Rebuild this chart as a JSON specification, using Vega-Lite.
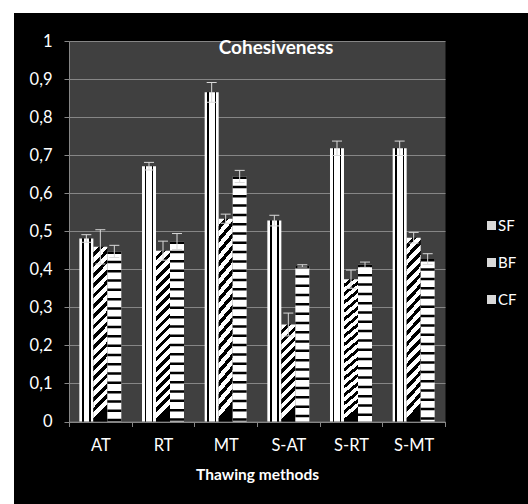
{
  "$schema": "https://vega.github.io/schema/vega-lite/v6.json",
  "width": 514,
  "height": 491,
  "autosize": {"type": "none"},
  "padding": {"left": 14, "top": 13, "right": 0, "bottom": 0},
  "background": "white",
  "config": {"view": {"fill": "black", "stroke": null}, "font": "Lato"},
  "title": {"text": "Cohesiveness", "color": "white", "font": "Lato", "fontSize": 19, "fontWeight": "bold", "anchor": "middle", "frame": "group", "offset": -45, "dx": 5},
  "data": {"values": [
    {"method": "AT", "series": "SF", "value": 0.481, "lo": 0.471, "hi": 0.491},
    {"method": "AT", "series": "BF", "value": 0.459, "lo": 0.414, "hi": 0.504},
    {"method": "AT", "series": "CF", "value": 0.447, "lo": 0.431, "hi": 0.463},
    {"method": "RT", "series": "SF", "value": 0.671, "lo": 0.661, "hi": 0.681},
    {"method": "RT", "series": "BF", "value": 0.449, "lo": 0.424, "hi": 0.474},
    {"method": "RT", "series": "CF", "value": 0.473, "lo": 0.452, "hi": 0.494},
    {"method": "MT", "series": "SF", "value": 0.865, "lo": 0.839, "hi": 0.891},
    {"method": "MT", "series": "BF", "value": 0.533, "lo": 0.521, "hi": 0.545},
    {"method": "MT", "series": "CF", "value": 0.644, "lo": 0.628, "hi": 0.66},
    {"method": "S-AT", "series": "SF", "value": 0.528, "lo": 0.514, "hi": 0.542},
    {"method": "S-AT", "series": "BF", "value": 0.255, "lo": 0.225, "hi": 0.285},
    {"method": "S-AT", "series": "CF", "value": 0.409, "lo": 0.406, "hi": 0.412},
    {"method": "S-RT", "series": "SF", "value": 0.718, "lo": 0.699, "hi": 0.737},
    {"method": "S-RT", "series": "BF", "value": 0.374, "lo": 0.35, "hi": 0.398},
    {"method": "S-RT", "series": "CF", "value": 0.412, "lo": 0.405, "hi": 0.419},
    {"method": "S-MT", "series": "SF", "value": 0.718, "lo": 0.699, "hi": 0.737},
    {"method": "S-MT", "series": "BF", "value": 0.483, "lo": 0.469, "hi": 0.497},
    {"method": "S-MT", "series": "CF", "value": 0.427, "lo": 0.413, "hi": 0.441}
  ]},
  "encoding": {
    "x": {
      "field": "method", "type": "nominal",
      "sort": ["AT", "RT", "MT", "S-AT", "S-RT", "S-MT"],
      "scale": {"range": [55, 431], "paddingInner": 0, "paddingOuter": 0},
      "axis": {"orient": "bottom", "offset": -82.5, "tickBand": "extent", "tickSize": 5, "tickColor": "#868686", "domainColor": "#868686", "labelColor": "white", "labelFont": "Lato", "labelFontSize": 16.5, "labelPadding": 11, "labelAngle": 0, "title": "Thawing methods", "titleColor": "white", "titleFont": "Lato", "titleFontSize": 15.5, "titleFontWeight": "bold", "titlePadding": 13, "grid": false}
    },
    "xOffset": {"field": "series", "type": "nominal", "scale": {"domain": ["SF", "BF", "CF"], "paddingInner": 0, "paddingOuter": 0.738}}
  },
  "resolve": {"axis": {"y": "independent"}},
  "layer": [
    {
      "transform": [{"filter": "datum.series === 'SF'"}],
      "mark": {"type": "bar", "stroke": null, "fill": {"gradient": "linear", "x1": 0, "y1": 0, "x2": 1, "y2": 0, "stops": [
        {"offset": 0, "color": "#ffffff"}, {"offset": 0.18, "color": "#ffffff"}, {"offset": 0.18, "color": "#000000"}, {"offset": 0.3, "color": "#000000"}, {"offset": 0.3, "color": "#ffffff"}, {"offset": 0.72, "color": "#ffffff"}, {"offset": 0.72, "color": "#000000"}, {"offset": 0.82, "color": "#000000"}, {"offset": 0.82, "color": "#ffffff"}, {"offset": 1, "color": "#ffffff"}]}},
      "encoding": {
        "y": {"field": "value", "type": "quantitative", "scale": {"domain": [0, 1], "range": [408.5, 28], "nice": false, "zero": true},
          "axis": {"orient": "left", "offset": -55, "values": [0.5], "grid": true, "gridColor": "#404040", "gridWidth": 380.5, "gridOpacity": 1, "labels": false, "ticks": false, "domain": false, "title": null}}
      }
    },
    {
      "transform": [{"filter": "datum.series === 'BF' && datum.method !== 'S-AT'"}],
      "mark": {"type": "bar", "stroke": null, "fill": {"gradient": "linear", "x1": 0, "y1": 0, "x2": 0.082, "y2": 1, "stops": [
        {"offset": 0, "color": "#ffffff"}, {"offset": 0.0324, "color": "#ffffff"}, {"offset": 0.0324, "color": "#000000"}, {"offset": 0.0588, "color": "#000000"},
        {"offset": 0.0588, "color": "#ffffff"}, {"offset": 0.0912, "color": "#ffffff"}, {"offset": 0.0912, "color": "#000000"}, {"offset": 0.1176, "color": "#000000"},
        {"offset": 0.1176, "color": "#ffffff"}, {"offset": 0.15, "color": "#ffffff"}, {"offset": 0.15, "color": "#000000"}, {"offset": 0.1765, "color": "#000000"},
        {"offset": 0.1765, "color": "#ffffff"}, {"offset": 0.2089, "color": "#ffffff"}, {"offset": 0.2089, "color": "#000000"}, {"offset": 0.2353, "color": "#000000"},
        {"offset": 0.2353, "color": "#ffffff"}, {"offset": 0.2677, "color": "#ffffff"}, {"offset": 0.2677, "color": "#000000"}, {"offset": 0.2941, "color": "#000000"},
        {"offset": 0.2941, "color": "#ffffff"}, {"offset": 0.3265, "color": "#ffffff"}, {"offset": 0.3265, "color": "#000000"}, {"offset": 0.3529, "color": "#000000"},
        {"offset": 0.3529, "color": "#ffffff"}, {"offset": 0.3853, "color": "#ffffff"}, {"offset": 0.3853, "color": "#000000"}, {"offset": 0.4118, "color": "#000000"},
        {"offset": 0.4118, "color": "#ffffff"}, {"offset": 0.4442, "color": "#ffffff"}, {"offset": 0.4442, "color": "#000000"}, {"offset": 0.4706, "color": "#000000"},
        {"offset": 0.4706, "color": "#ffffff"}, {"offset": 0.503, "color": "#ffffff"}, {"offset": 0.503, "color": "#000000"}, {"offset": 0.5294, "color": "#000000"},
        {"offset": 0.5294, "color": "#ffffff"}, {"offset": 0.5618, "color": "#ffffff"}, {"offset": 0.5618, "color": "#000000"}, {"offset": 0.5882, "color": "#000000"},
        {"offset": 0.5882, "color": "#ffffff"}, {"offset": 0.6206, "color": "#ffffff"}, {"offset": 0.6206, "color": "#000000"}, {"offset": 0.6471, "color": "#000000"},
        {"offset": 0.6471, "color": "#ffffff"}, {"offset": 0.6795, "color": "#ffffff"}, {"offset": 0.6795, "color": "#000000"}, {"offset": 0.7059, "color": "#000000"},
        {"offset": 0.7059, "color": "#ffffff"}, {"offset": 0.7383, "color": "#ffffff"}, {"offset": 0.7383, "color": "#000000"}, {"offset": 0.7647, "color": "#000000"},
        {"offset": 0.7647, "color": "#ffffff"}, {"offset": 0.7971, "color": "#ffffff"}, {"offset": 0.7971, "color": "#000000"}, {"offset": 0.8235, "color": "#000000"},
        {"offset": 0.8235, "color": "#ffffff"}, {"offset": 0.8559, "color": "#ffffff"}, {"offset": 0.8559, "color": "#000000"}, {"offset": 0.8824, "color": "#000000"},
        {"offset": 0.8824, "color": "#ffffff"}, {"offset": 0.9148, "color": "#ffffff"}, {"offset": 0.9148, "color": "#000000"}, {"offset": 0.9412, "color": "#000000"},
        {"offset": 0.9412, "color": "#ffffff"}, {"offset": 0.9736, "color": "#ffffff"}, {"offset": 0.9736, "color": "#000000"}, {"offset": 1, "color": "#000000"}]}},
      "encoding": {
        "y": {"field": "value", "type": "quantitative", "scale": {"domain": [0, 1], "range": [408.5, 28], "nice": false, "zero": true},
          "axis": {"orient": "left", "offset": -55, "values": [0, 0.1, 0.2, 0.3, 0.4, 0.5, 0.6, 0.7, 0.8, 0.9, 1], "grid": true, "gridColor": "#868686", "gridWidth": 1, "gridOpacity": 1, "domainColor": "#868686", "tickColor": "#868686", "tickSize": 5, "labelColor": "white", "labelFont": "Lato", "labelFontSize": 16.5, "labelPadding": 12, "labelExpr": "replace(toString(datum.value), '.', ',')", "title": null}}
      }
    },
    {
      "transform": [{"filter": "datum.series === 'BF' && datum.method === 'S-AT'"}],
      "mark": {"type": "bar", "stroke": null, "fill": {"gradient": "linear", "x1": 0, "y1": 0, "x2": 0.144, "y2": 1, "stops": [
        {"offset": 0, "color": "#ffffff"}, {"offset": 0.055, "color": "#ffffff"}, {"offset": 0.055, "color": "#000000"}, {"offset": 0.1, "color": "#000000"},
        {"offset": 0.1, "color": "#ffffff"}, {"offset": 0.155, "color": "#ffffff"}, {"offset": 0.155, "color": "#000000"}, {"offset": 0.2, "color": "#000000"},
        {"offset": 0.2, "color": "#ffffff"}, {"offset": 0.255, "color": "#ffffff"}, {"offset": 0.255, "color": "#000000"}, {"offset": 0.3, "color": "#000000"},
        {"offset": 0.3, "color": "#ffffff"}, {"offset": 0.355, "color": "#ffffff"}, {"offset": 0.355, "color": "#000000"}, {"offset": 0.4, "color": "#000000"},
        {"offset": 0.4, "color": "#ffffff"}, {"offset": 0.455, "color": "#ffffff"}, {"offset": 0.455, "color": "#000000"}, {"offset": 0.5, "color": "#000000"},
        {"offset": 0.5, "color": "#ffffff"}, {"offset": 0.555, "color": "#ffffff"}, {"offset": 0.555, "color": "#000000"}, {"offset": 0.6, "color": "#000000"},
        {"offset": 0.6, "color": "#ffffff"}, {"offset": 0.655, "color": "#ffffff"}, {"offset": 0.655, "color": "#000000"}, {"offset": 0.7, "color": "#000000"},
        {"offset": 0.7, "color": "#ffffff"}, {"offset": 0.755, "color": "#ffffff"}, {"offset": 0.755, "color": "#000000"}, {"offset": 0.8, "color": "#000000"},
        {"offset": 0.8, "color": "#ffffff"}, {"offset": 0.855, "color": "#ffffff"}, {"offset": 0.855, "color": "#000000"}, {"offset": 0.9, "color": "#000000"},
        {"offset": 0.9, "color": "#ffffff"}, {"offset": 0.955, "color": "#ffffff"}, {"offset": 0.955, "color": "#000000"}, {"offset": 1, "color": "#000000"}]}},
      "encoding": {
        "y": {"field": "value", "type": "quantitative", "scale": {"domain": [0, 1], "range": [408.5, 28], "nice": false, "zero": true}, "axis": null}
      }
    },
    {
      "transform": [{"filter": "datum.series === 'CF'"}],
      "mark": {"type": "bar", "stroke": null, "fill": "#ffffff"},
      "encoding": {
        "y": {"field": "value", "type": "quantitative", "scale": {"domain": [0, 1], "range": [408.5, 28], "nice": false, "zero": true}, "axis": null}
      }
    },
    {
      "transform": [{"filter": "datum.series === 'CF'"}],
      "mark": {"type": "rule", "strokeWidth": 14, "strokeDash": [2.5, 6.8], "color": "#000000", "strokeCap": "butt"},
      "encoding": {
        "y": {"field": "value", "type": "quantitative", "scale": {"domain": [0, 1], "range": [408.5, 28], "nice": false, "zero": true}, "axis": null},
        "y2": {"datum": 0}
      }
    },
    {
      "mark": {"type": "rule", "color": "#d9d9d9", "strokeWidth": 1},
      "encoding": {
        "y": {"field": "lo", "type": "quantitative", "scale": {"domain": [0, 1], "range": [408.5, 28], "nice": false, "zero": true}, "axis": null},
        "y2": {"field": "hi"}
      }
    },
    {
      "mark": {"type": "tick", "size": 10, "thickness": 1, "opacity": 1, "color": "#d9d9d9"},
      "encoding": {
        "y": {"field": "lo", "type": "quantitative", "scale": {"domain": [0, 1], "range": [408.5, 28], "nice": false, "zero": true}, "axis": null}
      }
    },
    {
      "mark": {"type": "tick", "size": 10, "thickness": 1, "opacity": 1},
      "encoding": {
        "y": {"field": "hi", "type": "quantitative", "scale": {"domain": [0, 1], "range": [408.5, 28], "nice": false, "zero": true}, "axis": null},
        "color": {
          "field": "series", "type": "nominal",
          "scale": {"domain": ["SF", "BF", "CF"], "range": ["#d9d9d9", "#d9d9d9", "#d9d9d9"]},
          "legend": {
            "title": null, "orient": "none", "legendX": 470, "legendY": 205, "padding": 0,
            "symbolType": "square", "symbolSize": 81, "symbolStrokeWidth": 0,
            "labelColor": "white", "labelFont": "Lato", "labelFontSize": 15, "labelOffset": -1, "rowPadding": 21,
            "encode": {"symbols": {"update": {
              "opacity": {"value": 1},
              "stroke": {"value": "transparent"},
              "fill": {"value": {"expr": "datum.value === 'SF' ? {gradient: 'linear', x1: 0, y1: 0, x2: 1, y2: 0, stops: [{offset: 0, color: '#ffffff'}, {offset: 0.4, color: '#ffffff'}, {offset: 0.4, color: '#000000'}, {offset: 0.58, color: '#000000'}, {offset: 0.58, color: '#ffffff'}, {offset: 1, color: '#ffffff'}]} : datum.value === 'BF' ? {gradient: 'linear', x1: 0, y1: 0, x2: 1, y2: 1, stops: [{offset: 0, color: '#000000'}, {offset: 0.3, color: '#000000'}, {offset: 0.3, color: '#ffffff'}, {offset: 1, color: '#ffffff'}]} : {gradient: 'linear', x1: 0, y1: 0, x2: 0, y2: 1, stops: [{offset: 0, color: '#ffffff'}, {offset: 0.42, color: '#ffffff'}, {offset: 0.42, color: '#000000'}, {offset: 0.6, color: '#000000'}, {offset: 0.6, color: '#ffffff'}, {offset: 1, color: '#ffffff'}]}"}}
            }}}
          }
        }
      }
    }
  ]
}
